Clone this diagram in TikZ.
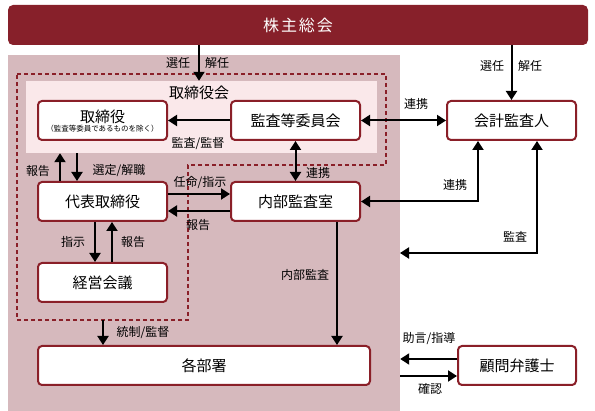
\documentclass[tikz,border=0pt]{standalone}
\usepackage{fontspec}
\setmainfont{Noto Sans CJK JP}
\newfontfamily\titlefont[LetterSpace=12]{Noto Sans CJK JP}
\usetikzlibrary{positioning,arrows.meta}
\definecolor{darkred}{HTML}{87202A}
\definecolor{boxred}{HTML}{8A1F28}
\definecolor{bgpink}{HTML}{D6B9BD}
\definecolor{lightpink}{HTML}{FAE8EA}

\begin{document}
\begin{tikzpicture}[x=1pt, y=-1pt, node distance=40pt,
  box/.style={draw=boxred, line width=2pt, rounded corners=4pt, fill=white, minimum width=129pt, minimum height=39pt, inner sep=0pt, font=\fontsize{15}{17}\selectfont},
  lbl/.style={inner sep=0pt, font=\fontsize{12}{14}\selectfont},
  arr/.style={-{Triangle[length=9pt,width=11pt]}, line width=2pt},
  biarr/.style={{Triangle[length=9pt,width=11pt]}-{Triangle[length=9pt,width=11pt]}, line width=2pt}]

  \useasboundingbox (0,0) rectangle (595,411);

  % Shareholders
  \node[fill=darkred, rounded corners=5pt, minimum width=580pt, minimum height=40pt, text=white, font=\titlefont\fontsize{16}{18}\selectfont] (holders) at (298,25) {株主総会};

  % Company area
  \node[fill=bgpink, minimum width=392pt, minimum height=356pt, inner sep=0pt] (company) at (204,233) {};

  % Board (dashed)
  \draw[boxred, line width=1.5pt, dash pattern=on 4pt off 3pt] (17,74) -- (386,74) -- (386,165) -- (188,165) -- (188,320) -- (17,320) -- cycle;
  \coordinate (boardbot) at (103,320);
  \node[fill=lightpink, minimum width=351pt, minimum height=72pt, inner sep=0pt] (board) at (201.5,117) {};
  \node[font=\fontsize{15}{17}\selectfont, inner sep=0pt] (boardtitle) at (199,93) {取締役会};

  % First row
  \node[box] (dirs) at (102.5,120.5) {};
  \node[inner sep=0pt, font=\fontsize{15}{17}\selectfont] (dirsname) at ([yshift=4pt]dirs.center) {取締役};
  \node[inner sep=0pt, font=\fontsize{7.5}{8}\selectfont] (dirsnote) at ([yshift=-8pt]dirs.center) {（監査等委員であるものを除く）};
  \node[box, right=62pt of dirs] (audcom) {監査等委員会};
  \node[box, right=85pt of audcom] (accaud) {会計監査人};

  % Second and third row
  \node[box, below=of dirs] (ceo) {代表取締役};
  \node[box, right=62pt of ceo] (intaud) {内部監査室};
  \node[box, below=of ceo] (mgmt) {経営会議};

  % Bottom row
  \node[box, minimum width=332pt] (depts) at (204,365.5) {各部署};
  \node[box, minimum width=118pt, right=86pt of depts] (lawyer) {顧問弁護士};

  % Shareholders arrows
  \draw[arr] (holders.south -| boardtitle) -- (board.north -| boardtitle);
  \draw[arr] (holders.south -| accaud) -- (accaud.north);

  % Board arrows
  \draw[arr] (audcom) -- (dirs);
  \draw[biarr] (audcom) -- (accaud);
  \draw[biarr] (audcom) -- (intaud);
  \draw[arr] ([xshift=-42.5pt]ceo.north) -- ([xshift=-42.5pt]ceo.north |- board.south);
  \draw[arr] ([xshift=-25.5pt]ceo.north |- board.south) -- ([xshift=-25.5pt]ceo.north);
  \draw[arr] ([yshift=7.5pt]ceo.east) -- ([yshift=7.5pt]intaud.west);
  \draw[arr] ([yshift=-9.5pt]intaud.west) -- ([yshift=-9.5pt]ceo.east);
  \draw[arr] ([xshift=-7.5pt]ceo.south) -- ([xshift=-7.5pt]mgmt.north);
  \draw[arr] ([xshift=9.5pt]mgmt.north) -- ([xshift=9.5pt]ceo.south);
  \draw[arr] (boardbot) -- (boardbot |- depts.north);
  \draw[arr] ([xshift=41.5pt]intaud.south) -- ([xshift=41.5pt]intaud.south |- depts.north);

  % Auditor arrows
  \coordinate (audpt) at (400,253);
  \draw[biarr] (intaud.east) -| ([xshift=-33.5pt]accaud.south);
  \draw[biarr] ([xshift=25.5pt]accaud.south) |- (audpt);

  % Lawyer arrows
  \draw[arr] ([yshift=6.5pt]lawyer.west) -- ([yshift=6.5pt]lawyer.west -| company.east);
  \draw[arr] ([yshift=-10.5pt]lawyer.west -| company.east) -- ([yshift=-10.5pt]lawyer.west);

  % Labels
  \node[lbl] (l1) at (178,63) {選任};
  \node[lbl] (l2) at (217,63) {解任};
  \node[lbl] (l3) at (492,66) {選任};
  \node[lbl] (l4) at (530,66) {解任};
  \node[lbl] (l5) at (198,144) {監査/監督};
  \node[lbl] (l6) at (416,104) {連携};
  \node[lbl] (l7) at (318,173) {連携};
  \node[lbl] (l8) at (38,171) {報告};
  \node[lbl] (l9) at (119,171) {選定/解職};
  \node[lbl] (l10) at (200,183) {任命/指示};
  \node[lbl] (l11) at (198,225) {報告};
  \node[lbl] (l12) at (73,242) {指示};
  \node[lbl] (l13) at (133,242) {報告};
  \node[lbl] (l14) at (143,333) {統制/監督};
  \node[lbl] (l15) at (305,275) {内部監査};
  \node[lbl] (l16) at (455,185) {連携};
  \node[lbl] (l17) at (515,237) {監査};
  \node[lbl] (l18) at (429,339) {助言/指導};
  \node[lbl] (l19) at (430,389) {確認};

\end{tikzpicture}
\end{document}
